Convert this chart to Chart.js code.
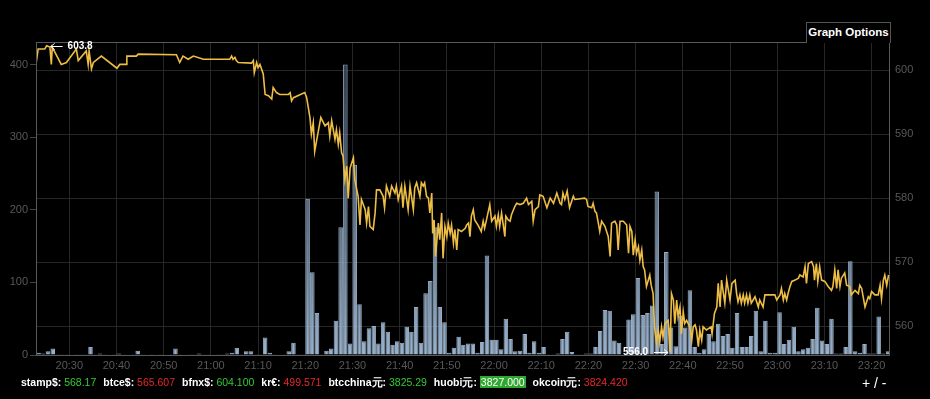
<!DOCTYPE html>
<html>
<head>
<meta charset="utf-8">
<script src="https://cdn.jsdelivr.net/npm/chart.js@4.4.0/dist/chart.umd.min.js"></script>
<style>
  html, body { margin: 0; padding: 0; background: #000; }
  #wrap { position: relative; width: 930px; height: 399px; overflow: hidden; font-family: "Liberation Sans", Arial, sans-serif; }
  #chart { position: absolute; left: 0; top: 0; }
  #opts { position: absolute; left: 806px; top: 22px; width: 83px; height: 20px; border: 1px solid #555; border-bottom: none;
          color: #fff; font-weight: bold; font-size: 11.5px; line-height: 19px; text-align: center; background: #000; white-space: nowrap; }
  #ticker { position: absolute; left: 21px; top: 375px; font-size: 10.5px; line-height: 14px; color: #fff; white-space: nowrap; }
  #ticker .k { font-weight: bold; }
  #ticker .g { color: #34c934; margin-right: 4px; }
  #ticker .r { color: #e8262a; margin-right: 4px; }
  #ticker .gb { color: #fff; background: #2fa82f; padding: 0 1px; margin-right: 4px; }
  #zoom { position: absolute; left: 862px; top: 375px; font-size: 14px; color: #fff; }
</style>
</head>
<body>
<div id="wrap">
  <canvas id="chart" width="930" height="399"></canvas>
  <div id="opts">Graph Options</div>
  <div id="ticker">
    <span class="k">stamp$:</span> <span class="g">568.17</span>
    <span class="k">btce$:</span> <span class="r">565.607</span>
    <span class="k">bfnx$:</span> <span class="g">604.100</span>
    <span class="k">kr€:</span> <span class="r">499.571</span>
    <span class="k">btcchina元:</span> <span class="g">3825.29</span>
    <span class="k">huobi元:</span> <span class="gb">3827.000</span>
    <span class="k">okcoin元:</span> <span class="r">3824.420</span>
  </div>
  <div id="zoom">+ / -</div>
</div>
<script>
// time is in minutes after 20:00
const timeLabels = ['20:30', '20:40', '20:50', '21:00', '21:10', '21:20', '21:30', '21:40', '21:50',
                    '22:00', '22:10', '22:20', '22:30', '22:40', '22:50', '23:00', '23:10', '23:20'];
const volTicks = [0, 100, 200, 300, 400];
const priceTicks = [560, 570, 580, 590, 600];

// last price (right axis)
const priceTimes = [
  23.0, 23.4, 24.8, 25.2, 25.9, 26.2, 26.4, 28.3, 29.4, 31.5, 31.9, 33.6, 34.0, 34.2, 34.7, 35.1, 36.8, 40.1, 40.7, 42.1,
  42.2, 44.2, 44.6, 52.7, 53.4, 54.1, 55.2, 56.3, 58.4,
  60.8, 64.0, 64.4, 64.7, 65.1, 65.4, 65.8, 68.6, 69.0, 69.2, 69.7, 70.0, 70.4, 71.1, 71.5, 72.2, 72.9, 73.2, 73.9, 74.6,
  76.4, 76.8, 77.1, 77.5, 79.9, 80.3, 81.0, 81.3, 81.7, 82.0, 82.7, 83.3, 84.2, 84.9, 85.2, 85.6, 86.3, 86.6, 87.0, 87.3,
  87.7, 88.0, 88.4, 88.8, 89.1, 89.5, 90.2, 90.5, 91.2, 91.6, 91.9, 92.7, 93.0, 93.4, 93.7, 94.4, 94.8, 95.1,
  95.8, 96.5, 96.8, 97.2, 97.9, 98.3, 99.0, 99.3, 99.7, 100.4, 100.7, 101.1, 101.8, 102.2, 102.9, 103.2, 103.6, 104.3, 104.6, 105.0,
  105.3, 105.7, 106.1, 106.4, 106.8, 107.0, 107.3, 107.6, 108.2, 108.5, 108.9, 109.2, 109.6, 110.0, 110.3, 110.7, 111.0, 111.4, 111.7, 112.1,
  112.4, 113.1, 113.9, 114.2, 114.6, 114.9, 115.2, 115.6, 115.9, 116.6, 117.3, 117.7, 118.0, 118.4, 119.1, 119.5, 120.2, 120.5, 120.9, 121.2,
  121.6, 122.3, 122.5, 123.0, 123.4, 123.7, 124.4, 124.8, 125.5, 126.2, 126.9, 127.3, 128.0, 128.3, 128.7, 129.4, 129.7, 130.4, 131.2, 131.9,
  132.6, 133.3, 134.0,
  134.3, 134.6, 135.0, 135.5, 136.0, 136.8, 137.1, 139.2, 139.6, 139.9, 140.7, 141.0, 141.4, 141.7, 142.1, 142.4, 142.8, 143.5, 144.2, 144.6,
  144.9, 145.6, 146.0, 146.3, 146.7, 147.4, 148.1, 148.5, 148.8, 149.2, 149.5, 149.9, 150.2, 150.6, 150.9, 151.3, 151.6, 151.9, 152.3, 153.0,
  153.3, 153.7, 154.0, 154.4, 154.8, 155.1, 155.5, 155.8, 156.2, 156.9, 157.3, 157.6, 158.0, 158.3, 158.7, 159.0, 159.4, 159.7, 160.1, 160.4,
  160.8, 161.5, 161.9, 162.2, 162.6, 162.9, 163.3, 163.6, 164.0, 164.3, 165.0, 166.0, 166.2, 166.7, 167.2, 167.5, 167.9, 168.2, 168.9, 169.3,
  170.0, 170.4, 171.1,
  171.4, 171.7, 172.1, 172.4, 172.8, 173.1, 173.5, 173.8, 174.2, 174.5, 175.3, 176.0, 176.3, 177.0, 177.4, 179.5, 179.9, 180.6, 180.9, 181.3,
  181.6, 182.0, 182.3, 182.7, 183.1, 183.8, 184.5, 184.8, 185.5, 185.9, 186.2, 186.6, 187.3, 187.7, 187.9, 188.3, 188.6, 189.0, 189.4, 190.1,
  190.8, 191.5, 191.8, 192.2, 192.6, 192.9, 193.3, 193.6, 194.3, 194.7, 195.4, 195.7, 196.5, 197.2, 197.5, 197.9, 198.6, 199.3, 199.6, 200.0,
  200.7, 201.4, 201.8, 202.1, 202.5, 202.8, 203.2, 203.6
];
const prices = [
  601.2, 603.3, 603.3, 603.8, 603.6, 600.9, 603.6, 600.9, 601.2, 603.3, 601.5, 603.0, 600.9, 603.0, 600.2, 601.2, 602.2, 600.3, 600.9, 600.9,
  602.2, 602.2, 602.5, 602.4, 601.2, 602.2, 601.7, 602.2, 601.7,
  601.7, 601.7, 602.2, 601.7, 602.0, 601.5, 601.2, 601.1, 601.5, 599.6, 601.2, 600.4, 600.9, 599.4, 596.2, 596.0, 595.5, 597.3, 596.5, 596.2,
  596.2, 596.5, 595.2, 595.7, 596.5, 595.7, 592.6, 590.0, 591.8, 587.3, 590.2, 592.6, 591.3, 591.8, 589.7, 592.1, 589.2, 590.7, 588.4, 590.2,
  587.1, 586.6, 582.9, 585.0, 580.0, 584.7, 586.3, 582.9, 580.3, 575.8, 579.8, 578.2, 576.1, 578.7, 575.6, 575.1, 577.7, 581.3,
  581.3, 580.3, 578.5, 581.9, 580.3, 581.9, 580.8, 581.9, 579.8, 581.9, 578.5, 581.9, 578.2, 581.9, 578.2, 581.6, 582.4, 580.3, 582.4, 581.9,
  582.4, 580.3, 580.0, 577.7, 580.8, 574.5, 576.6, 570.9, 576.1, 573.5, 577.7, 570.6, 575.6, 574.0, 576.1, 574.5, 575.8, 573.0, 575.1, 571.9,
  575.1, 574.8, 575.3, 575.8, 576.1, 574.0, 577.2, 578.2, 576.6, 575.8, 574.8, 576.4, 575.3, 576.6, 579.0, 576.4, 577.2, 575.6, 577.4, 575.6,
  577.7, 574.0, 577.2, 576.6, 576.4, 577.4, 578.7, 579.2, 579.0, 579.2, 580.0, 579.0, 579.5, 576.4, 578.2, 578.7, 580.5, 580.3, 578.5, 580.0,
  579.2, 580.8, 579.2,
  579.0, 580.8, 579.8, 581.1, 578.5, 580.3, 579.8, 580.0, 579.8, 578.7, 578.5, 579.2, 577.9, 577.7, 576.1, 574.8, 576.4, 575.6, 574.0, 570.9,
  576.1, 576.4, 575.8, 571.9, 576.4, 576.4, 575.8, 571.4, 575.6, 574.8, 571.1, 573.5, 571.4, 572.4, 570.3, 571.9, 569.3, 568.8, 566.2, 568.0,
  566.4, 565.1, 559.9, 557.5, 559.4, 557.5, 559.9, 558.3, 560.4, 560.9, 556.0, 565.1, 564.1, 560.4, 564.1, 561.5, 563.0, 558.8, 562.2, 560.4,
  560.9, 559.9, 557.8, 559.9, 560.2, 559.4, 556.8, 559.4, 557.8, 559.9, 559.4, 559.9, 558.8, 562.0, 563.0, 566.7, 563.0, 567.2, 563.6, 567.2,
  564.1, 566.7, 567.2,
  565.1, 563.8, 564.9, 563.6, 564.9, 563.6, 564.9, 563.6, 564.9, 563.6, 564.6, 563.0, 564.1, 563.0, 564.9, 564.9, 564.1, 564.9, 565.9, 564.1,
  565.1, 564.1, 565.1, 566.2, 567.0, 567.2, 567.5, 568.0, 567.7, 569.3, 566.7, 569.8, 570.1, 569.3, 567.2, 569.8, 567.0, 569.3, 567.2, 567.0,
  566.2, 565.6, 566.2, 568.8, 565.9, 568.8, 566.2, 567.5, 568.3, 566.4, 566.2, 564.9, 565.6, 565.1, 566.4, 565.9, 563.0, 564.6, 564.3, 565.4,
  564.9, 564.9, 566.4, 564.3, 567.2, 568.0, 566.4, 568.0
];

// volume per minute (left axis), first bar is minute 23
const volStart = 23;
const volumes = [
  3, 2, 5, 9, 1, 1, 1, 0, 1, 1,
  1, 11, 1, 2, 1, 0, 1, 2, 1, 0,
  1, 6, 1, 0, 1, 0, 1, 0, 1, 9,
  1, 0, 1, 1, 2, 1, 1, 0, 1, 1,
  2, 3, 10, 1, 5, 5, 1, 1, 24, 3,
  1, 0, 1, 5, 17, 1, 1, 215, 114, 58,
  1, 6, 9, 47, 176, 400, 16, 262, 70, 19,
  37, 40, 16, 45, 32, 14, 19, 17, 39, 32,
  66, 17, 85, 102, 176, 66, 45, 3, 10, 25,
  14, 16, 16, 3, 18, 137, 21, 21, 8, 50,
  22, 5, 6, 29, 3, 19, 3, 11, 1, 1,
  2, 22, 32, 4, 1, 1, 2, 2, 11, 33,
  62, 61, 20, 17, 1, 49, 56, 106, 55, 58,
  68, 225, 15, 142, 38, 12, 54, 38, 89, 11,
  3, 8, 29, 19, 43, 26, 29, 10, 58, 11,
  11, 26, 61, 5, 47, 3, 3, 59, 15, 21,
  39, 5, 8, 10, 22, 65, 20, 15, 50, 2,
  2, 11, 129, 5, 3, 15, 2, 2, 53, 2,
  5
];

function toMinutes(label) {
  const [h, m] = label.split(':').map(Number);
  return (h - 20) * 60 + m;
}
const timeTickValues = timeLabels.map(toMinutes);

Chart.defaults.font.family = '"Liberation Sans", Arial, sans-serif';
Chart.defaults.font.size = 11;

let barGradient = null;
function barFill(context) {
  const area = context.chart.chartArea;
  if (!area) return 'rgba(140,170,200,0.6)';
  if (!barGradient) {
    barGradient = context.chart.ctx.createLinearGradient(0, area.top, 0, area.bottom);
    barGradient.addColorStop(0, 'rgba(60,78,100,0.7)');
    barGradient.addColorStop(1, 'rgba(160,188,218,0.95)');
  }
  return barGradient;
}

// frame around the plot
const plotFrame = {
  id: 'plotFrame',
  afterDatasetsDraw(chart) {
    const { ctx, chartArea: a } = chart;
    ctx.save();
    ctx.strokeStyle = '#5a5a5a';
    ctx.lineWidth = 1;
    ctx.strokeRect(Math.round(a.left) + 0.5, Math.round(a.top) + 0.5, Math.round(a.right - a.left) - 1, Math.round(a.bottom - a.top));
    ctx.restore();
  }
};

function arrow(ctx, fromX, toX, y) {
  const dir = toX > fromX ? 1 : -1;
  ctx.beginPath();
  ctx.moveTo(fromX, y);
  ctx.lineTo(toX, y);
  ctx.moveTo(toX - dir * 4, y - 3);
  ctx.lineTo(toX, y);
  ctx.lineTo(toX - dir * 4, y + 3);
  ctx.stroke();
}

// high / low markers on the price line
const extremes = {
  id: 'extremes',
  afterDatasetsDraw(chart) {
    const { ctx, scales } = chart;
    let hi = 0, lo = 0;
    prices.forEach((p, i) => {
      if (p > prices[hi]) hi = i;
      if (p < prices[lo]) lo = i;
    });
    ctx.save();
    ctx.font = 'bold 10px "Liberation Sans", Arial, sans-serif';
    ctx.fillStyle = '#fff';
    ctx.strokeStyle = '#fff';
    ctx.lineWidth = 1;
    ctx.textBaseline = 'middle';

    let x = scales.x.getPixelForValue(priceTimes[hi]);
    let y = Math.round(scales.price.getPixelForValue(prices[hi])) + 0.5;
    arrow(ctx, x + 16, x + 4, y);
    ctx.textAlign = 'left';
    ctx.fillText(prices[hi].toFixed(1), x + 21, y);

    x = scales.x.getPixelForValue(priceTimes[lo]);
    y = Math.round(scales.price.getPixelForValue(prices[lo])) + 0.5;
    arrow(ctx, x - 16, x - 2, y);
    ctx.textAlign = 'right';
    ctx.fillText(prices[lo].toFixed(1), x - 22, y);
    ctx.restore();
  }
};

new Chart(document.getElementById('chart'), {
  type: 'bar',
  data: {
    datasets: [{
      type: 'line',
      label: 'price',
      data: priceTimes.map((t, i) => ({ x: t, y: prices[i] })),
      yAxisID: 'price',
      borderColor: '#edbd45',
      borderWidth: 1.6,
      pointRadius: 0,
      tension: 0,
      order: 0
    }, {
      label: 'volume',
      data: volumes.map((v, i) => ({ x: volStart + i + 0.5, y: v })),
      yAxisID: 'vol',
      backgroundColor: barFill,
      borderColor: 'rgba(180,202,225,0.85)',
      borderWidth: 1,
      barPercentage: 0.96,
      categoryPercentage: 1,
      order: 1
    }]
  },
  options: {
    responsive: false,
    animation: false,
    layout: { padding: { top: 42, bottom: 24, left: 0, right: 0 } },
    plugins: { legend: { display: false }, tooltip: { enabled: false } },
    scales: {
      x: {
        type: 'linear',
        min: 22.95,
        max: 203.9,
        offset: false,
        afterBuildTicks: s => { s.ticks = timeTickValues.map(v => ({ value: v })); },
        afterFit: s => { s.height = 20; },
        ticks: {
          color: '#585858',
          padding: 4,
          maxRotation: 0,
          autoSkip: false,
          callback: v => timeLabels[timeTickValues.indexOf(v)] || ''
        },
        grid: { color: '#262626', drawTicks: false, offset: false },
        border: { display: false }
      },
      vol: {
        position: 'left',
        min: 0,
        max: 431,
        afterBuildTicks: s => { s.ticks = volTicks.map(v => ({ value: v })); },
        afterFit: s => { s.width = 36; },
        ticks: { color: '#585858', padding: 2 },
        grid: { drawOnChartArea: false, color: '#444', tickLength: 6 },
        border: { display: false }
      },
      price: {
        position: 'right',
        min: 555.5,
        max: 604.4,
        afterBuildTicks: s => { s.ticks = priceTicks.map(v => ({ value: v })); },
        afterFit: s => { s.width = 40; },
        ticks: { color: '#585858', padding: 5 },
        grid: { color: '#262626', drawTicks: false },
        border: { display: false }
      }
    }
  },
  plugins: [plotFrame, extremes]
});
</script>
</body>
</html>
